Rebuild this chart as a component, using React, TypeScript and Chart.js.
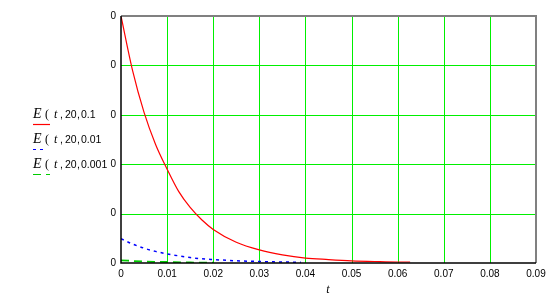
import React, { useEffect, useRef } from "react";
import { Chart, registerables } from "chart.js";

Chart.register(...registerables);

const tRed = [0, 0.0025, 0.005, 0.0075, 0.01, 0.0125, 0.015, 0.0175, 0.02, 0.025, 0.03, 0.035, 0.04, 0.045, 0.05, 0.055, 0.06, 0.0627];
const eRed = [0.1, 0.078, 0.061, 0.048, 0.038, 0.029, 0.0225, 0.0175, 0.0136, 0.0084, 0.0053, 0.0033, 0.002, 0.0014, 0.0009, 0.0006, 0.0004, 0.0004];
const tBlue = [0, 0.0025, 0.005, 0.0075, 0.01, 0.0125, 0.015, 0.0175, 0.02, 0.025, 0.03, 0.035, 0.039];
const eBlue = [0.0098, 0.0077, 0.006, 0.0047, 0.0037, 0.0029, 0.0022, 0.0017, 0.0014, 0.0009, 0.0006, 0.0004, 0.0003];
const tGreen = [0, 0.005, 0.01, 0.015, 0.02];
const eGreen = [0.0011, 0.0006, 0.0004, 0.0002, 0.0001];
const xTickLabels = ["0", "0.01", "0.02", "0.03", "0.04", "0.05", "0.06", "0.07", "0.08", "0.09"];
const yTickLabels = ["0", "0", "0", "0", "0", "0"];
const legendParams = ["0.1", "0.01", "0.001"];
const seriesColors = ["#ff0000", "#0000ff", "#00cc00"];
const seriesDash = [[], [3, 4], [8, 5]];

const pts = (t: number[], e: number[]) => t.map((x, i) => ({ x, y: e[i] }));

export default function App() {
  const ref = useRef<HTMLCanvasElement | null>(null);
  useEffect(() => {
    if (!ref.current) return;
    const gridPlugin = {
      id: "mcGrid",
      beforeDatasetsDraw(chart: any) {
        const c = chart.ctx;
        const a = chart.chartArea;
        const xs = chart.scales.x;
        const ys = chart.scales.y;
        c.save();
        c.strokeStyle = "#00f000";
        c.lineWidth = 1;
        xs.ticks.forEach((t: any, i: number) => {
          if (i === 0 || i === xs.ticks.length - 1) return;
          const px = Math.round(xs.getPixelForValue(t.value)) + 0.5;
          c.beginPath();
          c.moveTo(px, a.top);
          c.lineTo(px, a.bottom);
          c.stroke();
        });
        ys.ticks.forEach((t: any, i: number) => {
          if (i === 0 || i === ys.ticks.length - 1) return;
          const py = Math.round(ys.getPixelForValue(t.value)) + 0.5;
          c.beginPath();
          c.moveTo(a.left, py);
          c.lineTo(a.right, py);
          c.stroke();
        });
        c.restore();
      },
    };
    const legendPlugin = {
      id: "mcLegend",
      afterDraw(chart: any) {
        const c = chart.ctx;
        const area = chart.chartArea;
        c.save();
        c.strokeStyle = "#808080";
        c.lineWidth = 2;
        c.beginPath();
        c.moveTo(area.left, area.top);
        c.lineTo(area.right, area.top);
        c.lineTo(area.right, area.bottom);
        c.stroke();
        c.strokeStyle = "#000";
        c.lineWidth = 1.5;
        c.beginPath();
        c.moveTo(area.left, area.top);
        c.lineTo(area.left, area.bottom);
        c.lineTo(area.right, area.bottom);
        c.stroke();
        const baseYs = [118, 143, 168];
        legendParams.forEach((p, i) => {
          const y = baseYs[i];
          c.fillStyle = "#000";
          c.textBaseline = "alphabetic";
          c.textAlign = "left";
          c.font = "italic 14px 'Liberation Serif'";
          c.fillText("E", 33, y);
          c.font = "12px 'Liberation Serif'";
          c.fillText("(", 45, y);
          c.font = "italic 12px 'Liberation Serif'";
          c.fillText("t", 54, y);
          c.font = "10.5px 'Liberation Sans'";
          c.fillText(",", 60, y);
          c.fillText("20", 65, y);
          c.fillText(",", 77, y);
          c.fillText(p, 81, y);
          c.strokeStyle = seriesColors[i];
          c.lineWidth = 1.2;
          c.setLineDash(seriesDash[i]);
          c.beginPath();
          const ly = y + 6.5;
          c.moveTo(33, ly);
          c.lineTo(i === 1 ? 46 : 50, ly);
          c.stroke();
          c.setLineDash([]);
        });
        c.font = "italic 12px 'Liberation Serif'";
        c.fillStyle = "#000";
        c.textAlign = "center";
        c.fillText("t", 328, 293);
        c.restore();
      },
    };
    const chart = new Chart(ref.current, {
      type: "line",
      data: {
        datasets: [
          { data: pts(tRed, eRed), borderColor: seriesColors[0], borderWidth: 1.2, pointRadius: 0, cubicInterpolationMode: "monotone", borderDash: seriesDash[0] },
          { data: pts(tBlue, eBlue), borderColor: seriesColors[1], borderWidth: 1.5, pointRadius: 0, cubicInterpolationMode: "monotone", borderDash: seriesDash[1] },
          { data: pts(tGreen, eGreen), borderColor: seriesColors[2], borderWidth: 1.8, pointRadius: 0, cubicInterpolationMode: "monotone", borderDash: seriesDash[2] },
        ],
      },
      plugins: [gridPlugin, legendPlugin],
      options: {
        animation: false,
        responsive: false,
        maintainAspectRatio: false,
        layout: { padding: { left: 0, right: 18, top: 16, bottom: 0 } },
        plugins: { legend: { display: false }, tooltip: { enabled: false } },
        scales: {
          x: {
            type: "linear",
            min: 0,
            max: 0.09,
            afterBuildTicks: (s: any) => {
              s.ticks = xTickLabels.map((_, i) => ({ value: i * 0.01 }));
            },
            afterFit: (s: any) => { s.height = 34; },
            ticks: {
              padding: 5,
              maxRotation: 0,
              autoSkip: false,
              color: "#000",
              font: { family: "'Liberation Sans'", size: 10 },
              callback: (_v: any, i: number) => xTickLabels[i],
            },
            grid: { display: false, drawTicks: false },
            border: { display: false },
          },
          y: {
            type: "linear",
            min: 0,
            max: 0.1,
            afterBuildTicks: (s: any) => {
              s.ticks = yTickLabels.map((_, i) => ({ value: i * 0.02 }));
            },
            afterFit: (s: any) => { s.width = 121; },
            ticks: {
              padding: 5,
              color: "#000",
              font: { family: "'Liberation Sans'", size: 10 },
              callback: (_v: any, i: number) => yTickLabels[i],
            },
            grid: { display: false, drawTicks: false },
            border: { display: false },
          },
        },
      },
    } as any);
    return () => chart.destroy();
  }, []);
  return (
    <div style={{ position: "fixed", left: 0, top: 0, width: 554, height: 297, background: "#fff" }}>
      <canvas ref={ref} width={554} height={297} style={{ width: 554, height: 297 }} />
    </div>
  );
}
